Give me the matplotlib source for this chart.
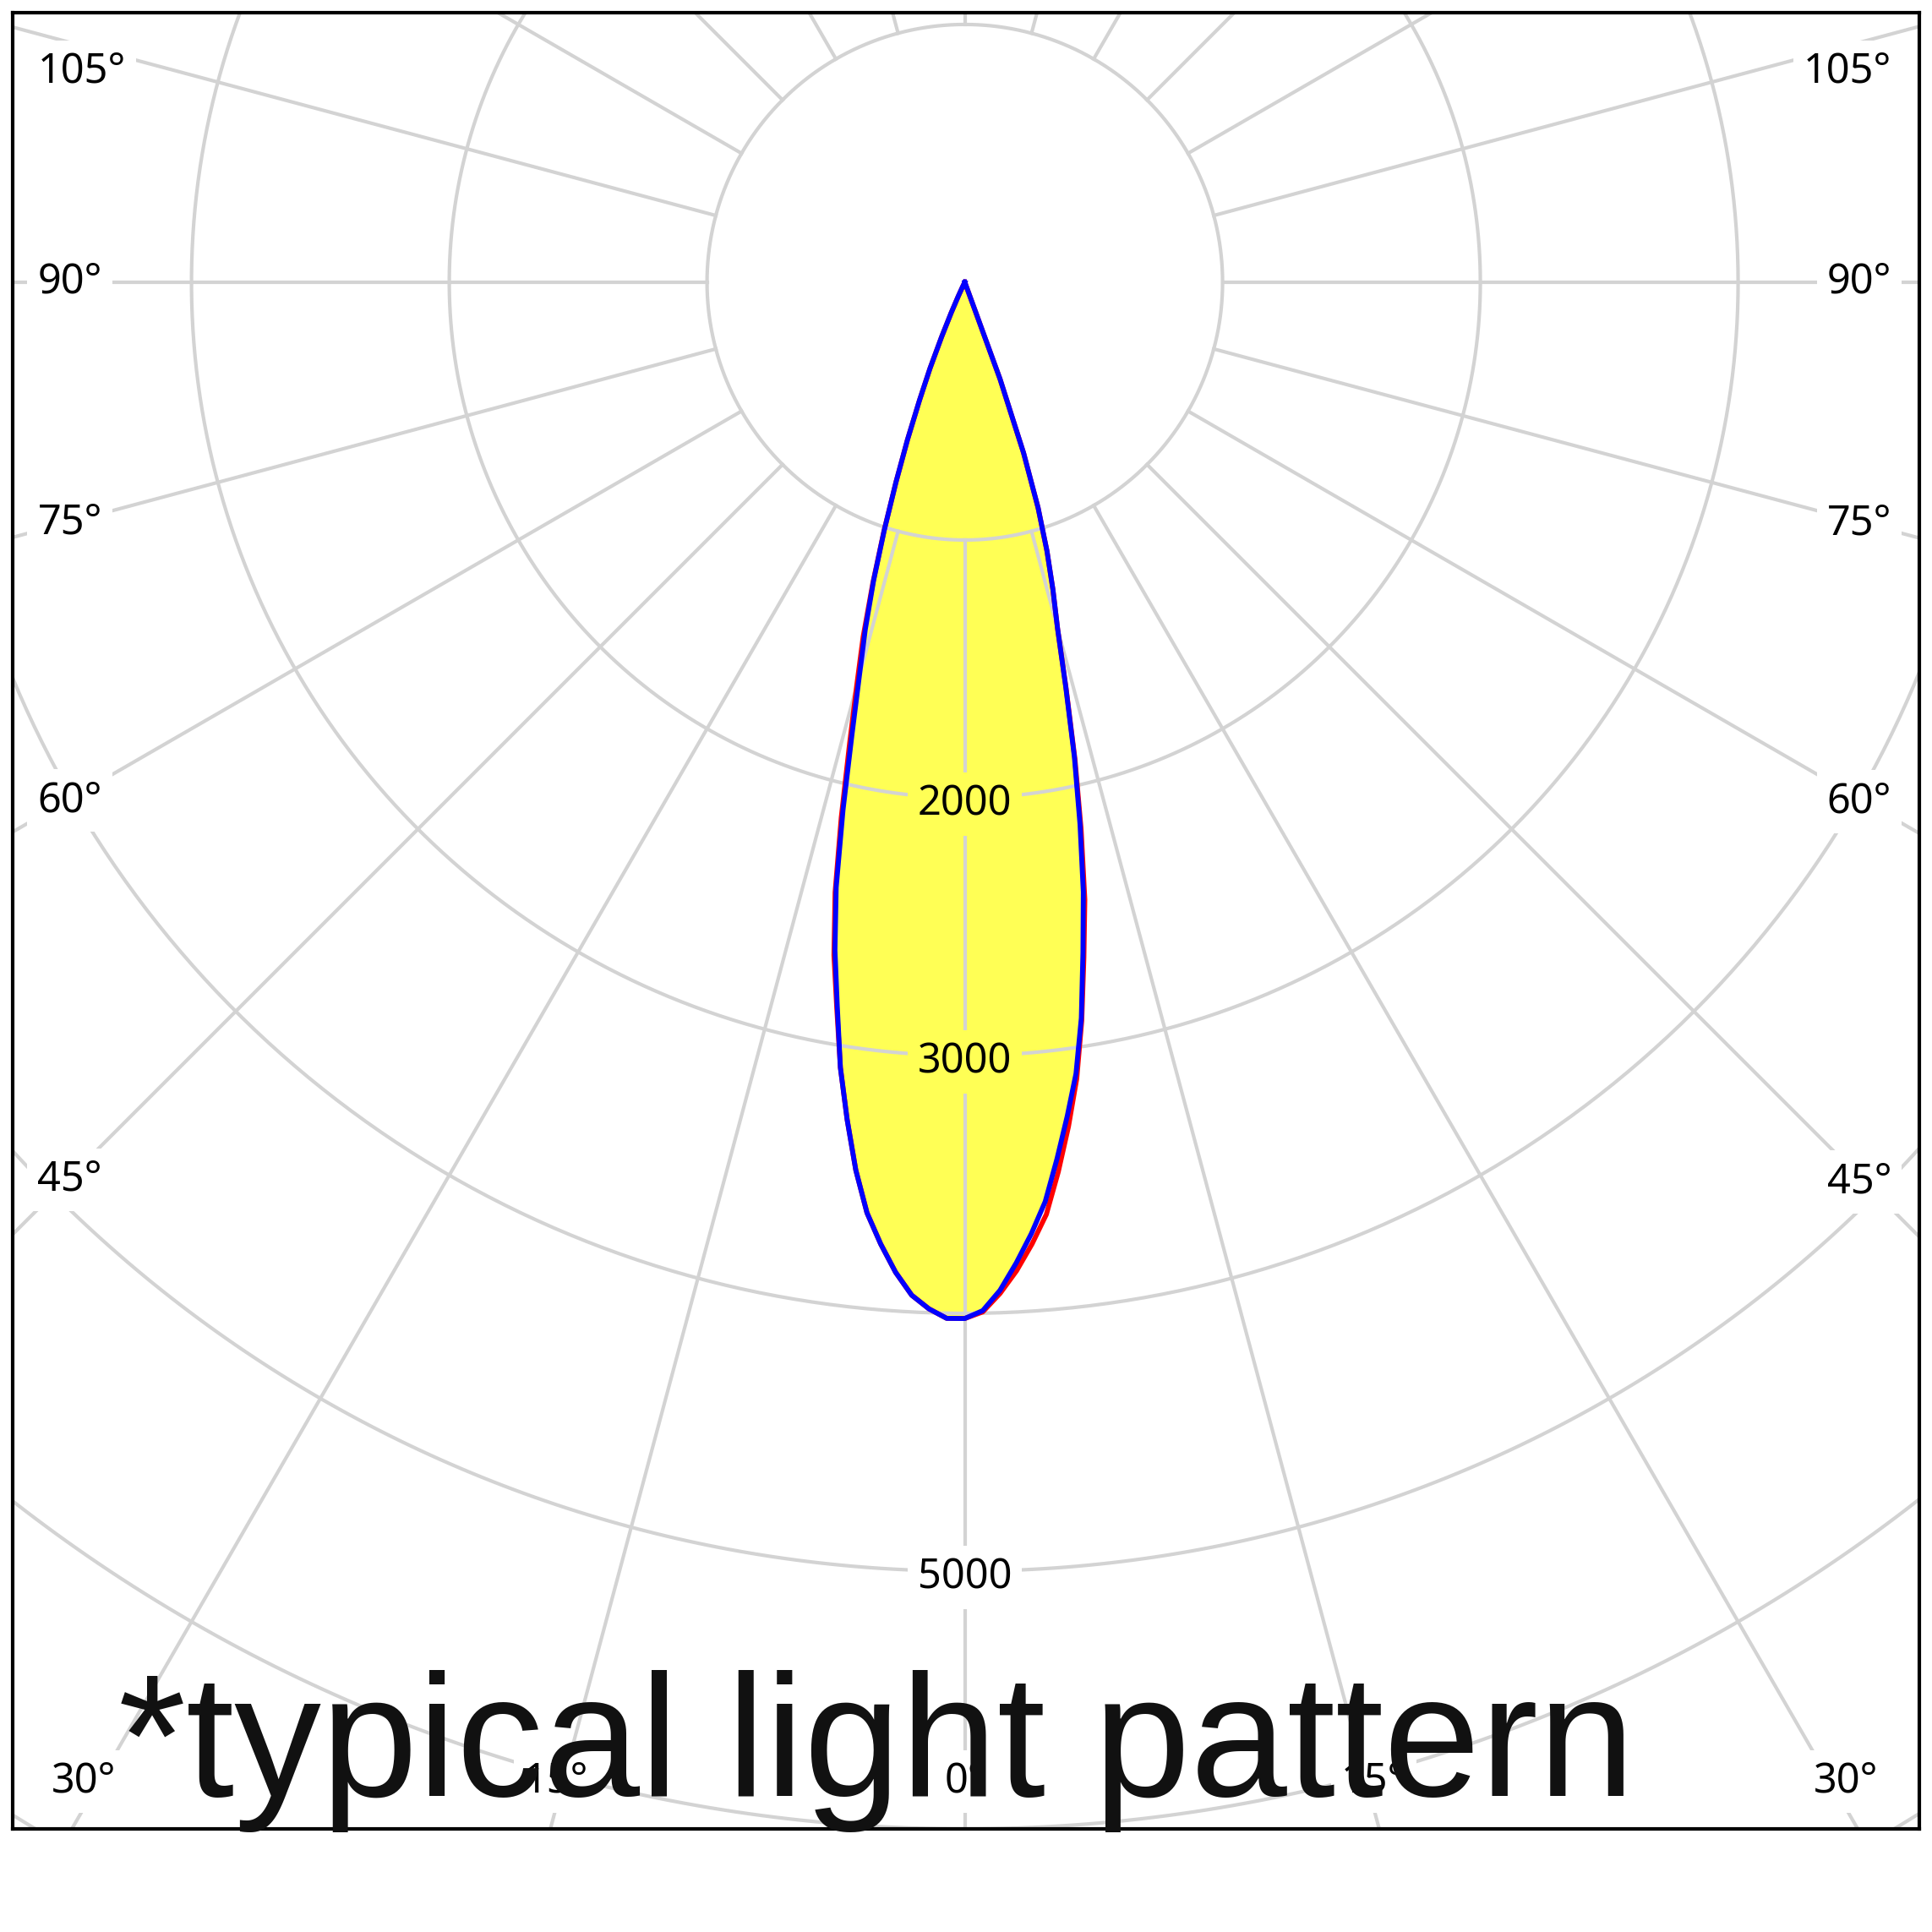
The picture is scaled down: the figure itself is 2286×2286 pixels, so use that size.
import numpy as np
import matplotlib
matplotlib.use('Agg')
import matplotlib.pyplot as plt

# gamma angles (deg, 0 = straight down) and luminous intensity (cd)
angles = [0, 1, 2, 3, 4, 5, 6, 7, 8, 9, 10, 11, 12, 13, 14,
          15, 16, 17, 18, 19, 20, 21, 22, 23, 24, 25, 26, 27, 28]
blue_left = [4020, 4020, 3985, 3935, 3850, 3745, 3630, 3470, 3280, 3085, 2850, 2640, 2400, 2100, 1810,
             1580, 1400, 1210, 1010, 820, 650, 490, 360, 230, 130, 60, 20, 0, 0]
blue_right = [4020, 3990, 3913, 3810, 3700, 3580, 3420, 3260, 3100, 2890, 2640, 2410, 2150, 1890, 1620,
              1390, 1240, 1090, 920, 700, 400, 0, 0, 0, 0, 0, 0, 0, 0]
red_left = [4020, 4020, 3985, 3935, 3850, 3745, 3630, 3470, 3280, 3085, 2860, 2660, 2420, 2130, 1850,
            1620, 1430, 1220, 1015, 820, 650, 490, 360, 230, 130, 60, 20, 0, 0]
red_right = [4020, 3995, 3925, 3840, 3740, 3630, 3470, 3300, 3120, 2900, 2660, 2440, 2170, 1900, 1625,
             1390, 1240, 1090, 920, 700, 400, 0, 0, 0, 0, 0, 0, 0, 0]

rings = [1000, 2000, 3000, 4000, 5000, 6000, 7000, 8000]
ring_labels = [2000, 3000, 5000]
side_angles = [45, 60, 75, 90, 105]
bottom_angles = [0, 15, 30]
title = "*typical light pattern"

YELLOW = '#ffff55'
GRID = '#d3d3d3'


def curve_xy(left, right):
    a = np.radians(np.array(angles, dtype=float))
    th = np.concatenate([-a[::-1], a[1:]])
    r = np.concatenate([np.array(left[::-1], float), np.array(right[1:], float)])
    return r * np.sin(th), -r * np.cos(th)


fig = plt.figure(figsize=(22.86, 22.86), dpi=100)
W = 2286.0
ax = fig.add_axes([14.6 / W, 1 - 2164 / W, (2271 - 14.6) / W, (2164 - 14.6) / W])
x0, x1 = -3695, 3703
y0, y1 = -6000, 1047
ax.set_xlim(x0, x1)
ax.set_ylim(y0, y1)
ax.set_xticks([])
ax.set_yticks([])
for s in ax.spines.values():
    s.set_linewidth(3)
    s.set_color('black')

# fill
bx, by = curve_xy(blue_left, blue_right)
ax.fill(bx, by, color=YELLOW, lw=0, zorder=1)

# grid circles and rays
t = np.linspace(0, 2 * np.pi, 721)
for r in rings:
    ax.plot(r * np.sin(t), -r * np.cos(t), color=GRID, lw=3.0, zorder=2)
for a in range(0, 360, 15):
    ar = np.radians(a)
    ax.plot([1000 * np.sin(ar), 9000 * np.sin(ar)], [-1000 * np.cos(ar), -9000 * np.cos(ar)],
            color=GRID, lw=3.0, zorder=2)

lab_font = dict(family=['Noto Sans', 'DejaVu Sans'], fontsize=35, color='black')
peak = max(blue_left)
for v in ring_labels:
    fc = YELLOW if v < peak else 'white'
    ax.text(0, -v - 25, str(v), ha='center', va='center', zorder=3,
            bbox=dict(boxstyle='square,pad=0.25', fc=fc, ec='none'), **lab_font)

# curves
rx, ry = curve_xy(red_left, red_right)
ax.plot(rx, ry, color='red', lw=4.2, zorder=4)
ax.plot(bx, by, color='blue', lw=4.2, zorder=5)

# angle labels
box = dict(boxstyle='square,pad=0.25', fc='white', ec='none')
for a in side_angles:
    ar = np.radians(a)
    for side in (-1, 1):
        xr = (x0 + 213) if side < 0 else (x1 - 213)
        r = abs(xr) / np.sin(ar)
        y = min(-r * np.cos(ar), y1 - 230)
        if side < 0:
            ax.text(x0 + 98, y, f"{a}°", ha='left', va='center', zorder=6, bbox=box, **lab_font)
        else:
            ax.text(x1 - 108, y, f"{a}°", ha='right', va='center', zorder=6, bbox=box, **lab_font)
for a in bottom_angles:
    ar = np.radians(a)
    xr = (-y0 - 82) * np.tan(ar)
    for side in ((-1, 1) if a else (1,)):
        ax.text(side * xr, y0 + 184, f"{a}°", ha='center', va='center', zorder=6, bbox=box, **lab_font)

ax.text(-3284, -5872, title, ha='left', va='baseline', fontsize=148,
        family=['Liberation Sans', 'DejaVu Sans'], color='#111111', zorder=7)

fig.savefig('out.png', dpi=100, facecolor='white')
